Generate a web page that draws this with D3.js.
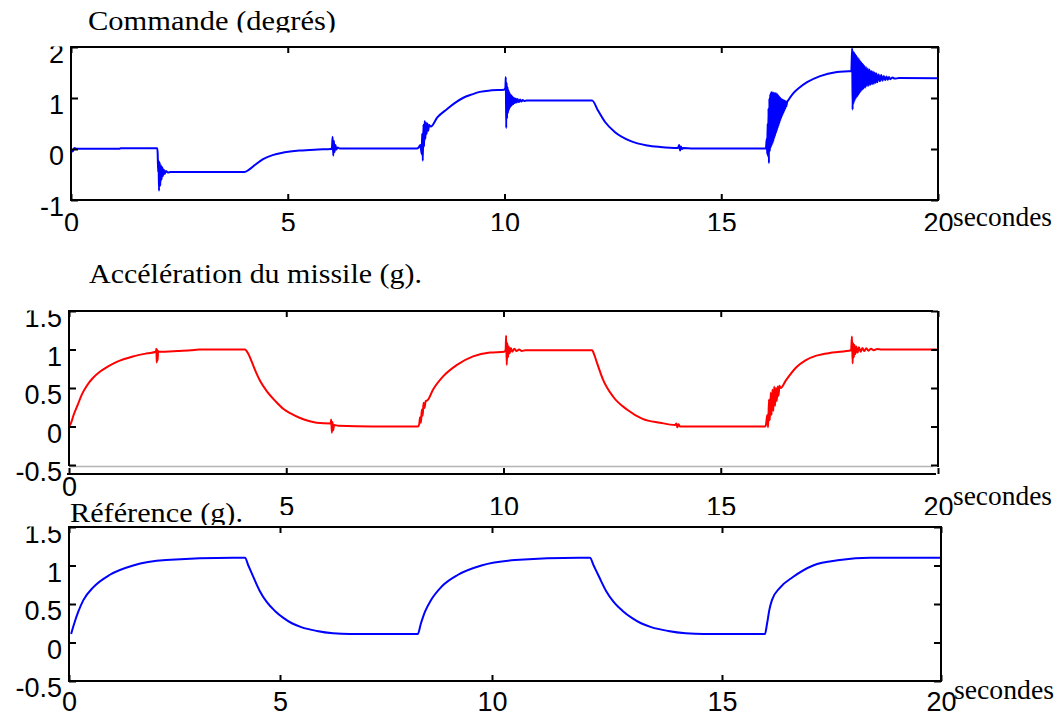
<!DOCTYPE html>
<html><head><meta charset="utf-8">
<script src="https://cdn.jsdelivr.net/npm/d3@7"></script>
<style>body{margin:0;background:#fff}svg{display:block}</style>
</head><body><svg id="c" width="1062" height="716"></svg>
<script>
// ---------- data ----------
const timeTicks=[0,5,10,15,20];
const timeLabels=["0","5","10","15","20"];
const commandeTicks=[-1,0,1,2];
const commandeLabels=["-1","0","1","2"];
const gTicks=[-0.5,0,0.5,1,1.5];
const gLabels=["-0.5","0","0.5","1","1.5"];
const titles=["Commande (degrés)","Accélération du missile (g).","Référence (g)."];
const unitLabel="secondes";

const commande=[[0,0.005],[0.04,-0.05],[0.08,0.02],[0.12,0.005],[1.12,0.005],[1.14,0.015],[1.99,0.015],
[2.0,-0.1],[2.01,-0.45],[2.02,-0.22],[2.03,-0.82],[2.045,-0.26],[2.06,-0.72],[2.075,-0.32],[2.09,-0.6],[2.105,-0.36],[2.12,-0.53],[2.14,-0.4],[2.16,-0.49],[2.19,-0.43],[2.23,-0.46],[2.3,-0.45],[4.0,-0.45],
[4.1,-0.41],[4.25,-0.31],[4.43,-0.2],[4.65,-0.12],[4.9,-0.07],[5.28,-0.03],[5.7,-0.01],[6.0,0.0],
[6.02,0.03],[6.035,0.24],[6.05,-0.13],[6.065,0.16],[6.08,-0.06],[6.1,0.08],[6.12,-0.01],[6.15,0.03],[6.2,0.01],[7.98,0.01],
[8.02,0.03],[8.06,0.08],[8.09,-0.1],[8.1,0.3],[8.115,-0.23],[8.13,0.48],[8.145,0.05],[8.16,0.55],[8.175,0.2],[8.19,0.52],[8.205,0.3],[8.22,0.5],[8.24,0.36],[8.26,0.47],[8.3,0.44],
[8.45,0.62],[8.67,0.78],[8.85,0.9],[9.04,1.0],[9.25,1.07],[9.43,1.12],[9.7,1.15],[9.99,1.16],
[10.02,1.2],[10.03,1.41],[10.04,0.41],[10.05,1.3],[10.06,0.6],[10.07,1.22],[10.08,0.7],[10.09,1.16],[10.10,0.76],[10.11,1.12],[10.12,0.8],[10.13,1.08],[10.14,0.83],[10.15,1.06],[10.16,0.85],[10.17,1.04],[10.18,0.87],[10.19,1.02],[10.20,0.88],[10.22,1.0],[10.24,0.9],[10.26,0.99],[10.28,0.91],[10.30,0.98],[10.33,0.92],[10.36,0.97],[10.39,0.93],[10.42,0.96],[10.46,0.94],[10.5,0.95],[12.02,0.95],
[12.16,0.75],[12.32,0.53],[12.55,0.33],[12.9,0.16],[13.29,0.07],[13.59,0.04],[14.0,0.02],[14.03,0.08],[14.05,-0.03],[14.07,0.05],[14.09,0.0],[14.12,0.02],[14.35,0.01],[16.03,0.01],
[16.05,0.2],[16.06,-0.1],[16.07,0.5],[16.08,-0.15],[16.09,0.8],[16.10,-0.28],[16.11,1.0],[16.12,-0.05],[16.13,1.08],[16.14,0.02],[16.15,1.12],[16.16,0.06],[16.17,1.12],[16.18,0.1],[16.19,1.11],[16.20,0.14],[16.21,1.11],[16.22,0.2],[16.23,1.1],[16.24,0.25],[16.25,1.1],[16.26,0.3],[16.27,1.09],[16.28,0.35],[16.29,1.08],[16.30,0.4],[16.31,1.06],[16.32,0.45],[16.33,1.04],[16.34,0.5],[16.35,1.02],[16.36,0.55],[16.37,1.0],[16.38,0.6],[16.39,0.98],[16.40,0.64],[16.41,0.97],[16.42,0.68],[16.43,0.96],[16.44,0.72],[16.45,0.95],[16.46,0.76],[16.47,0.94],[16.48,0.8],[16.49,0.93],[16.5,0.84],[16.52,0.92],[16.55,0.96],
[16.65,1.08],[16.8,1.2],[16.98,1.31],[17.28,1.43],[17.67,1.51],[18.0,1.53],
[18.02,1.98],[18.03,0.77],[18.04,1.92],[18.05,0.88],[18.06,1.9],[18.07,0.93],[18.08,1.88],[18.09,0.97],[18.10,1.85],[18.11,1.0],[18.12,1.83],[18.13,1.02],[18.14,1.8],[18.15,1.04],[18.16,1.78],[18.17,1.07],[18.18,1.76],[18.19,1.1],[18.20,1.73],[18.21,1.12],[18.22,1.71],[18.23,1.14],[18.24,1.69],[18.25,1.16],[18.26,1.67],[18.27,1.17],[18.28,1.65],[18.29,1.19],[18.30,1.63],[18.32,1.2],[18.34,1.61],[18.36,1.23],[18.38,1.58],[18.40,1.24],[18.42,1.56],[18.44,1.26],[18.46,1.53],[18.48,1.27],[18.50,1.52],[18.52,1.28],[18.54,1.5],[18.56,1.3],[18.58,1.48],[18.6,1.31],[18.63,1.46],[18.66,1.33],[18.69,1.45],[18.72,1.34],[18.75,1.43],[18.78,1.35],[18.81,1.42],[18.84,1.36],[18.87,1.41],[18.9,1.37],[18.95,1.4],[19.0,1.38],[19.1,1.39],[20,1.385]];

const acceleration=[[0,0],[0.05,0.05],[0.1,0.14],[0.2,0.28],[0.3,0.42],[0.41,0.53],[0.55,0.63],[0.71,0.71],[0.9,0.78],[1.1,0.84],[1.47,0.91],[1.8,0.95],[2.0,0.97],[2.01,1.01],[2.02,0.83],[2.03,1.0],[2.04,0.86],[2.05,0.98],[2.07,0.97],[2.5,0.98],[2.8,0.99],[3.0,1.0],[4.05,1.0],
[4.12,0.95],[4.2,0.85],[4.3,0.71],[4.4,0.59],[4.55,0.46],[4.75,0.33],[4.93,0.23],[5.1,0.17],[5.32,0.11],[5.7,0.05],[6.02,0.04],[6.035,0.09],[6.05,-0.08],[6.065,0.06],[6.08,-0.05],[6.1,0.02],[6.2,0.01],[7.0,0],[8.03,0],
[8.06,0.03],[8.08,0.12],[8.1,0.05],[8.12,0.22],[8.14,0.14],[8.16,0.31],[8.18,0.24],[8.21,0.33],[8.25,0.34],[8.38,0.48],[8.61,0.65],[8.93,0.8],[9.3,0.91],[9.69,0.96],[10.02,0.97],
[10.05,1.0],[10.06,1.18],[10.075,0.8],[10.09,1.08],[10.105,0.9],[10.12,1.04],[10.14,0.95],[10.17,1.02],[10.2,0.97],[10.25,1.01],[10.3,0.98],[10.36,1.0],[10.42,0.98],[10.5,0.99],[12.04,0.99],
[12.09,0.93],[12.15,0.83],[12.29,0.61],[12.52,0.39],[12.84,0.22],[13.2,0.1],[13.6,0.05],[13.95,0.02],[13.98,0.04],[14.0,-0.01],[14.03,0.03],[14.06,0.0],[14.45,0],[16.02,0],
[16.04,0.02],[16.07,0.15],[16.09,-0.01],[16.11,0.35],[16.13,0.08],[16.15,0.44],[16.17,0.15],[16.19,0.48],[16.21,0.2],[16.23,0.52],[16.25,0.27],[16.27,0.5],[16.29,0.33],[16.31,0.52],[16.33,0.4],[16.35,0.53],[16.38,0.5],
[16.5,0.6],[16.74,0.77],[16.95,0.86],[17.2,0.92],[17.57,0.96],[18.0,0.99],
[18.02,1.17],[18.035,0.82],[18.05,1.08],[18.065,0.9],[18.08,1.06],[18.1,0.94],[18.12,1.04],[18.15,0.96],[18.18,1.03],[18.22,0.97],[18.26,1.02],[18.3,0.98],[18.35,1.015],[18.4,0.985],[18.46,1.01],[18.52,0.99],[18.6,1.005],[18.7,1.0],[20,1.0]];

const reference=[[0.05,0.11],[0.12,0.24],[0.22,0.4],[0.34,0.55],[0.58,0.72],[0.97,0.88],[1.52,1.0],[2.3,1.07],[3.9,1.1],[4.17,1.1],
[4.25,1.0],[4.37,0.85],[4.52,0.67],[4.68,0.53],[4.88,0.41],[5.08,0.32],[5.28,0.25],[5.5,0.2],[5.87,0.15],[6.25,0.12],[6.65,0.11],[8.25,0.11],
[8.32,0.24],[8.42,0.4],[8.56,0.55],[8.8,0.72],[9.2,0.88],[9.75,1.0],[10.5,1.07],[11.9,1.1],[12.13,1.1],
[12.21,1.0],[12.33,0.85],[12.48,0.67],[12.64,0.53],[12.84,0.41],[13.04,0.32],[13.24,0.25],[13.46,0.2],[13.83,0.15],[14.21,0.12],[14.61,0.11],[15.98,0.11],
[16.03,0.25],[16.08,0.42],[16.14,0.55],[16.32,0.71],[16.62,0.85],[17.08,1.0],[17.69,1.07],[18.38,1.1],[20,1.1]];

// ---------- drawing ----------
const svg=d3.select("#c");
const SANS="'Liberation Sans', Arial, sans-serif";
const SERIF="'Liberation Serif', 'Times New Roman', serif";
const defs=svg.append("defs");
let clipN=0;
function clipRect(x,y,w,h){const id="clip"+(clipN++);defs.append("clipPath").attr("id",id).append("rect").attr("x",x).attr("y",y).attr("width",w).attr("height",h);return `url(#${id})`;}

function serifText(txt,x,y,len,clip){
  const t=svg.append("text").attr("x",x).attr("y",y).attr("font-family",SERIF).attr("font-size",27)
    .attr("textLength",len).attr("lengthAdjust","spacingAndGlyphs").attr("fill","#000").text(txt);
  if(clip) t.attr("clip-path",clip);
  return t;
}

function panel(p){
  const g=svg.append("g");
  const line=d3.line().x(d=>p.x(d[0])).y(d=>p.y(d[1])).curve(d3.curveMonotoneX);
  g.append("path").datum(p.data).attr("d",line).attr("fill","none").attr("stroke",p.color)
    .attr("stroke-width",2).attr("stroke-linejoin","round");

  if(p.frame==="box"){
    g.append("rect").attr("x",p.left).attr("y",p.top).attr("width",p.right-p.left).attr("height",p.bottom-p.top)
      .attr("fill","none").attr("stroke","#000").attr("stroke-width",2);
  }
  (p.extraLines||[]).forEach(l=>{
    g.append("line").attr("x1",l[0]).attr("y1",l[1]).attr("x2",l[2]).attr("y2",l[3])
      .attr("stroke",l[4]||"#000").attr("stroke-width",l[5]||2);
  });

  const lo=g.append("g").attr("clip-path",clipRect(0,p.top-0.5,p.left+12,760-p.top));
  const la=lo.append("g").attr("transform",`translate(${p.left},0)`)
    .call(d3.axisLeft(p.y).tickValues(p.yTicks).tickFormat((d,i)=>p.yLabels[i]).tickSize(-7).tickPadding(7));
  la.select(".domain").remove();
  la.selectAll("line").attr("stroke","#000").attr("stroke-width",2);
  la.selectAll("text").attr("y",7).attr("font-family",SANS).attr("font-size",27).attr("fill","#000");

  const ra=g.append("g").attr("transform",`translate(${p.right},0)`)
    .call(d3.axisRight(p.y).tickValues(p.yTicks).tickFormat("").tickSize(-7));
  ra.select(".domain").remove();ra.selectAll("text").remove();
  ra.selectAll("line").attr("stroke","#000").attr("stroke-width",2);

  const ta=g.append("g").attr("transform",`translate(0,${p.top})`)
    .call(d3.axisTop(p.x).tickValues(timeTicks).tickFormat("").tickSize(-6));
  ta.select(".domain").remove();ta.selectAll("text").remove();
  ta.selectAll("line").attr("stroke","#000").attr("stroke-width",2);

  const bo=g.append("g").attr("clip-path",clipRect(0,0,1062,p.xClip));
  const ba=bo.append("g").attr("transform",`translate(0,${p.xAxisY})`)
    .call(d3.axisBottom(p.x).tickValues(timeTicks).tickFormat((d,i)=>timeLabels[i]).tickSize(-6).tickPadding(p.xPad));
  ba.select(".domain").remove();
  ba.selectAll("line").attr("stroke","#000").attr("stroke-width",2);
  ba.selectAll("text").attr("font-family",SANS).attr("font-size",27).attr("fill","#000");
  if(p.firstLabelPad!==undefined) ba.select(".tick text").attr("y",p.firstLabelPad);
  return g;
}

// Panel 1 : commande
const x1=d3.scaleLinear().domain([0,20]).range([71,938]);
const y1=d3.scaleLinear().domain([-1,2]).range([200,47]);
panel({x:x1,y:y1,data:commande,color:"#0000ff",left:71,right:938,top:47,bottom:200,frame:"box",
  yTicks:commandeTicks,yLabels:commandeLabels,xAxisY:200,xPad:13,xClip:231});
serifText(titles[0],88,30,248,clipRect(0,0,1062,32.5));
serifText(unitLabel,953,226,99);

// Panel 2 : accélération
const x2=d3.scaleLinear().domain([0,20]).range([69,938]);
const y2=d3.scaleLinear().domain([-0.5,1.5]).range([465,311]);
panel({x:x2,y:y2,data:acceleration,color:"#ff0000",left:69,right:938,top:311,bottom:466,frame:"custom",
  extraLines:[[69,311,69,466],[68,311,933,311],[938,311,938,467],[69,466.5,933,466.5,"#b4b4b4",1.5],[67,474,936,474]],
  yTicks:gTicks,yLabels:gLabels,xAxisY:474,xPad:23,xClip:515,firstLabelPad:3});
serifText(titles[1],89,283,333);
serifText(unitLabel,953,505,99);

// Panel 3 : référence
const x3=d3.scaleLinear().domain(timeTicks).range([69,280,492,722,941]);
const y3=d3.scaleLinear().domain([-0.5,1.5]).range([681,527]);
panel({x:x3,y:y3,data:reference,color:"#0000ff",left:69,right:941,top:527,bottom:681,frame:"box",
  yTicks:gTicks,yLabels:gLabels,xAxisY:681,xPad:11,xClip:716});
serifText(titles[2],70,522,173,clipRect(0,0,1062,525));
serifText(unitLabel,954,699,100);
</script></body></html>
